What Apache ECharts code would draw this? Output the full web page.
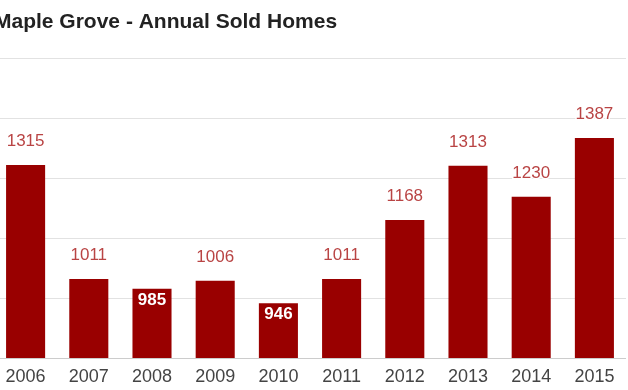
<!DOCTYPE html>
<html>
<head>
<meta charset="utf-8">
<style>html,body{margin:0;padding:0;background:#fff;overflow:hidden;}#c{width:632px;height:390px;margin-left:-6px;}</style>
<script src="https://cdn.jsdelivr.net/npm/echarts@6/dist/echarts.min.js"></script>
</head>
<body>
<div id="c"></div>
<script>
const titleText = 'Maple Grove - Annual Sold Homes';
const years = ['2006','2007','2008','2009','2010','2011','2012','2013','2014','2015'];
const soldHomes = [1315, 1011, 985, 1006, 946, 1011, 1168, 1313, 1230, 1387];
const insideLabelYears = ['2008','2010'];
const yMin = 800, yMax = 1600, yStep = 160;

const chart = echarts.init(document.getElementById('c'), null, {renderer:'canvas'});
const data = soldHomes.map((v, i) => {
  const item = {value: v};
  if (insideLabelYears.includes(years[i])) {
    item.label = {position: 'insideTop', distance: 3, color: '#ffffff', fontWeight: 'bold', textBorderWidth: 0};
  }
  return item;
});
chart.setOption({
  animation: false,
  title: {
    text: titleText, left: -5, top: 7,
    textStyle: {fontFamily: 'Liberation Sans, Arial, sans-serif', fontSize: 21, fontWeight: 'bold', color: '#222222'}
  },
  grid: {left: 0, right: 0, top: 58, height: 300, containLabel: false},
  xAxis: {
    type: 'category', data: years,
    axisTick: {show: false},
    axisLine: {show: true, lineStyle: {color: '#cccccc'}},
    axisLabel: {margin: 10, color: '#444444', fontSize: 18, fontFamily: 'Liberation Sans, Arial, sans-serif'}
  },
  yAxis: {
    type: 'value', min: yMin, max: yMax, interval: yStep,
    axisLabel: {show: false}, axisLine: {show: false}, axisTick: {show: false},
    splitLine: {lineStyle: {color: '#e2e2e2', width: 1}}
  },
  series: [{
    type: 'bar', data: data, barWidth: '61.8%',
    itemStyle: {color: '#990000'},
    label: {
      show: true, position: 'top', distance: 15,
      color: '#b94444', fontSize: 17, fontFamily: 'Liberation Sans, Arial, sans-serif',
      textBorderColor: '#ffffff', textBorderWidth: 3
    }
  }]
});
</script>
</body>
</html>
